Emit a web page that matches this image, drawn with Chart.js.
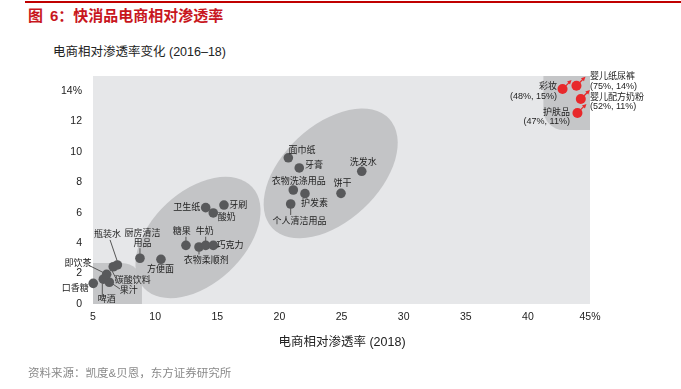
<!DOCTYPE html>
<html><head><meta charset="utf-8">
<script src="https://cdn.jsdelivr.net/npm/chart.js@4.4.1/dist/chart.umd.min.js"></script>
<style>
html,body{margin:0;padding:0;background:#fff;}
#wrap{position:relative;width:681px;height:389px;overflow:hidden;background:#fff;}
canvas{position:absolute;left:0;top:0;}
.t{position:absolute;white-space:nowrap;line-height:1;font-family:"Liberation Sans","Noto Sans CJK SC",sans-serif;}
</style></head><body>
<div id="wrap">
<div style="position:absolute;left:25px;top:1px;width:656px;height:1.5px;background:#c00000"></div>
<div class="t" style="left:28px;top:7.5px;font-size:15px;font-weight:bold;color:#c8161d"><span style="margin-right:7px">图</span>6：快消品电商相对渗透率</div>
<div class="t" style="left:53px;top:46px;font-size:12.5px;color:#222">电商相对渗透率变化 (2016–18)</div>
<canvas id="c" width="681" height="389"></canvas>
<div class="t" style="left:242px;width:200px;text-align:center;top:336px;font-size:12.5px;color:#222">电商相对渗透率 (2018)</div>
<div class="t" style="left:28px;top:367.5px;font-size:11.5px;color:#8a8a8a">资料来源：凯度&amp;贝恩，东方证券研究所</div>
</div>
<script>
// ---- data ----
const grayCategories = ['口香糖','啤酒','果汁','即饮茶','碳酸饮料','瓶装水','厨房清洁用品','方便面','糖果','衣物柔顺剂','牛奶','巧克力','卫生纸','酸奶','牙刷','面巾纸','牙膏','衣物洗涤用品','护发素','个人清洁用品','洗发水','饼干'];
const grayX = [5.02, 5.83, 6.31, 6.10, 6.63, 6.96, 8.78, 10.47, 12.48, 13.53, 14.07, 14.68, 14.07, 14.68, 15.54, 20.72, 21.60, 21.12, 22.06, 20.91, 26.63, 24.96];
const grayY = [1.36, 1.63, 1.43, 1.95, 2.45, 2.57, 3.01, 2.94, 3.86, 3.75, 3.86, 3.86, 6.34, 5.99, 6.51, 9.62, 8.95, 7.50, 7.26, 6.58, 8.73, 7.28];
const redCategories = ['彩妆','婴儿纸尿裤','婴儿配方奶粉','护肤品'];
const redActual = ['(48%, 15%)','(75%, 14%)','(52%, 11%)','(47%, 11%)'];
const redX = [42.79, 43.91, 44.26, 43.99];
const redY = [14.14, 14.36, 13.49, 12.57];
const xTicks = [5,10,15,20,25,30,35,40,45];
const xTickLabels = ['5','10','15','20','25','30','35','40','45%'];
const yTicks = [0,2,4,6,8,10,12,14];
const yTickLabels = ['0','2','4','6','8','10','12','14%'];

// ---- label layout (pixel offsets from each dot) ----
const grayLayout = {
 '口香糖':{dx:-18,dy:5},
 '啤酒':{dx:3.4,dy:20.7,lead:[-1,4,-1,16]},
 '果汁':{dx:19.4,dy:8.4,lead:[2.4,1,10.7,6.7]},
 '即饮茶':{dx:-28.7,dy:-11,lead:[-18.4,-9.3,-1.7,-1]},
 '碳酸饮料':{dx:19.4,dy:14,lead:[-1.6,3.3,2.7,11.6]},
 '瓶装水':{dx:-9.8,dy:-30,lead:[-7.3,-25,0.4,-2.3]},
 '厨房清洁用品':{dx:2.5,dy:-25,lines:['厨房清洁','用品'],lh:10,lead:[0,-10,0,-4]},
 '方便面':{dx:-0.5,dy:10},
 '糖果':{dx:-4.3,dy:-13.6,lead:[0,-8.6,0,-4]},
 '衣物柔顺剂':{dx:7.3,dy:13.7,lead:[0,1.3,0,7.5]},
 '牛奶':{dx:-1,dy:-13.6,lead:[0,-8.6,0,-4]},
 '巧克力':{dx:16.7,dy:0.4},
 '卫生纸':{dx:-19,dy:0},
 '酸奶':{dx:13.4,dy:4.7},
 '牙刷':{dx:14.3,dy:0},
 '面巾纸':{dx:13.7,dy:-7.7},
 '牙膏':{dx:14.7,dy:-2.3},
 '衣物洗涤用品':{dx:5.4,dy:-8.3},
 '护发素':{dx:9.5,dy:9.6},
 '个人清洁用品':{dx:8.8,dy:17.7,lead:[0,4,0,11]},
 '洗发水':{dx:1.6,dy:-9},
 '饼干':{dx:1.5,dy:-10}
};
const redLayout = {
 '彩妆':{dx:-5.5,align:'right',dy1:-3,dy2:7},
 '婴儿纸尿裤':{dx:13.5,align:'left',dy1:-9,dy2:1},
 '婴儿配方奶粉':{dx:9.2,align:'left',dy1:-1,dy2:8},
 '护肤品':{dx:-7.5,align:'right',dy1:-0.3,dy2:8.7}
};
const LABEL_FONT = '9px "Liberation Sans","Noto Sans CJK SC"';

function roundRectPath(ctx,x1,y1,x2,y2,r,corner){
  ctx.beginPath();
  if(corner==='tr'){
    ctx.moveTo(x1,y1); ctx.lineTo(x2-r,y1); ctx.arcTo(x2,y1,x2,y1+r,r); ctx.lineTo(x2,y2); ctx.lineTo(x1,y2);
  } else { // bl
    ctx.moveTo(x1,y1); ctx.lineTo(x2,y1); ctx.lineTo(x2,y2); ctx.lineTo(x1+r,y2); ctx.arcTo(x1,y2,x1,y2-r,r); ctx.lineTo(x1,y1);
  }
  ctx.closePath();
}

const bgPlugin = {
  id:'bgShapes',
  beforeDatasetsDraw(chart){
    const {ctx, chartArea:a, scales:{x,y}} = chart;
    ctx.save();
    ctx.fillStyle='#e6e7e9';
    ctx.fillRect(a.left,a.top,a.right-a.left,a.bottom-a.top);
    ctx.fillStyle='#c5c6c8';
    roundRectPath(ctx,x.getPixelForValue(5),y.getPixelForValue(2.7),x.getPixelForValue(8.94),y.getPixelForValue(0),20,'tr');
    ctx.fill();
    roundRectPath(ctx,x.getPixelForValue(41.25),y.getPixelForValue(15),x.getPixelForValue(45),y.getPixelForValue(11.45),20,'bl');
    ctx.fill();
    ctx.fillStyle='#c3c4c6';
    [[13.45,4.375,74,46],[24.13,8.59,80,48]].forEach(e=>{
      ctx.beginPath();
      ctx.ellipse(x.getPixelForValue(e[0]),y.getPixelForValue(e[1]),e[2],e[3],-43*Math.PI/180,0,Math.PI*2);
      ctx.fill();
    });
    // leader lines
    ctx.strokeStyle='#555';
    ctx.lineWidth=1;
    grayCategories.forEach((c,i)=>{
      const L=grayLayout[c]; if(!L||!L.lead) return;
      const px=x.getPixelForValue(grayX[i]), py=y.getPixelForValue(grayY[i]);
      ctx.beginPath();
      ctx.moveTo(px+L.lead[0],py+L.lead[1]);
      ctx.lineTo(px+L.lead[2],py+L.lead[3]);
      ctx.stroke();
    });
    ctx.restore();
  },
  afterDatasetsDraw(chart){
    const {ctx, scales:{x,y}} = chart;
    ctx.save();
    ctx.font=LABEL_FONT;
    ctx.fillStyle='#222';
    ctx.textBaseline='middle';
    grayCategories.forEach((c,i)=>{
      const L=grayLayout[c];
      const px=x.getPixelForValue(grayX[i]), py=y.getPixelForValue(grayY[i]);
      ctx.textAlign='center';
      const lines=L.lines||[c];
      lines.forEach((t,k)=>ctx.fillText(t,px+L.dx,py+L.dy+k*(L.lh||10)));
    });
    redCategories.forEach((c,i)=>{
      const L=redLayout[c];
      const px=x.getPixelForValue(redX[i]), py=y.getPixelForValue(redY[i]);
      ctx.textAlign=L.align;
      ctx.fillStyle='#222';
      ctx.fillText(c,px+L.dx,py+L.dy1);
      ctx.fillText(redActual[i],px+L.dx,py+L.dy2);
      // arrow
      ctx.strokeStyle='#e8282b'; ctx.fillStyle='#e8282b'; ctx.lineWidth=1.2;
      ctx.beginPath(); ctx.moveTo(px+3,py-3); ctx.lineTo(px+7,py-7); ctx.stroke();
      ctx.beginPath(); ctx.moveTo(px+9,py-9); ctx.lineTo(px+4.5,py-7.5); ctx.lineTo(px+7.5,py-4.5); ctx.closePath(); ctx.fill();
    });
    ctx.restore();
  }
};

new Chart(document.getElementById('c').getContext('2d'),{
  type:'scatter',
  data:{datasets:[
    {data:grayX.map((v,i)=>({x:v,y:grayY[i]})),pointRadius:4.8,pointHoverRadius:4.8,backgroundColor:'#58595b',borderWidth:0,clip:false},
    {data:redX.map((v,i)=>({x:v,y:redY[i]})),pointRadius:5,pointHoverRadius:5,backgroundColor:'#e8282b',borderWidth:0,clip:false}
  ]},
  options:{
    responsive:false,animation:false,devicePixelRatio:1,events:[],
    layout:{padding:{top:76,right:91,bottom:0,left:0}},
    plugins:{legend:{display:false},tooltip:{enabled:false}},
    scales:{
      x:{type:'linear',min:5,max:45,
        grid:{display:false,drawTicks:false},border:{display:false},
        afterBuildTicks(s){s.ticks=xTicks.map(v=>({value:v}));},
        afterFit(s){s.height=85;},
        ticks:{padding:7,color:'#222',maxRotation:0,autoSkip:false,
          font:{size:10.5,family:'"Liberation Sans", Arial, sans-serif'},
          callback:(v)=>xTickLabels[xTicks.indexOf(v)]}},
      y:{type:'linear',min:0,max:15,
        grid:{display:false,drawTicks:false},border:{display:false},
        afterBuildTicks(s){s.ticks=yTicks.map(v=>({value:v}));},
        afterFit(s){s.width=93;},
        ticks:{padding:11,color:'#222',autoSkip:false,
          font:{size:10.5,family:'"Liberation Sans", Arial, sans-serif'},
          callback:(v)=>yTickLabels[yTicks.indexOf(v)]}}
    }
  },
  plugins:[bgPlugin]
});
</script>
</body></html>
